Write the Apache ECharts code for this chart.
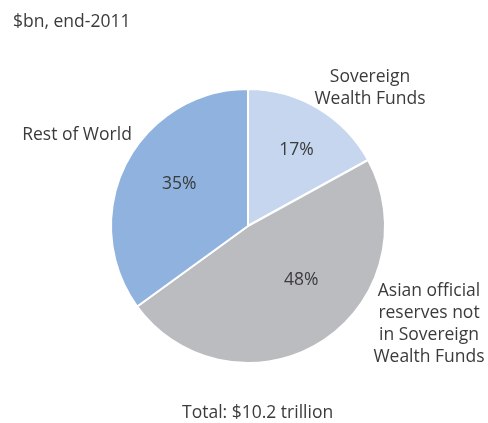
<!DOCTYPE html>
<html>
<head>
<meta charset="utf-8">
<script src="https://cdn.jsdelivr.net/npm/echarts@6/dist/echarts.min.js"></script>
<style>
  html, body { margin: 0; padding: 0; background: #fff; }
  #chart { width: 488px; height: 423px; }
</style>
</head>
<body>
<div id="chart"></div>
<script>
// Holdings split, end-2011 (share of total, %)
const sliceNames = [
  'Sovereign\nWealth Funds',
  'Asian official\nreserves not\nin Sovereign\nWealth Funds',
  'Rest of World'
];
const shares = [17, 48, 35];
const sliceColors = ['#c6d6ee', '#bbbcc0', '#8fb3de'];
const unitNote = '$bn, end-2011';
const totalNote = 'Total: $10.2 trillion';

const FONT = '"Open Sans", "Noto Sans", sans-serif';
const TEXT = '#3b3b3b';
const CENTER = [248, 226];
const RADIUS = 137;

// nudges for the percentage labels, relative to each slice's default inside spot
const innerNudge = [[12, -14], [15, -6], [-5, -10]];
// name labels sit outside the pie
const outerSpot = [[370, 88], [429, 324], [77, 135]];

const data = sliceNames.map((n, i) => ({
  name: n,
  value: shares[i],
  itemStyle: { color: sliceColors[i] }
}));

const chart = echarts.init(document.getElementById('chart'), null, { renderer: 'canvas' });
chart.setOption({
  animation: false,
  title: [
    {
      text: unitNote, left: 8, top: 8,
      textStyle: { fontFamily: FONT, fontSize: 17.5, fontWeight: 'normal', color: TEXT }
    },
    {
      text: totalNote, left: 177, top: 399,
      textStyle: { fontFamily: FONT, fontSize: 17.5, fontWeight: 'normal', color: TEXT }
    }
  ],
  series: [
    {
      type: 'pie',
      center: CENTER,
      radius: RADIUS,
      startAngle: 90,
      clockwise: true,
      silent: true,
      data: data,
      itemStyle: { borderColor: '#ffffff', borderWidth: 2 },
      label: {
        show: true,
        position: 'inside',
        formatter: '{c}%',
        fontFamily: FONT,
        fontSize: 17.5,
        color: TEXT
      },
      labelLine: { show: false },
      labelLayout: p => ({ dx: innerNudge[p.dataIndex][0], dy: innerNudge[p.dataIndex][1] })
    },
    {
      type: 'pie',
      center: CENTER,
      radius: RADIUS,
      startAngle: 90,
      clockwise: true,
      silent: true,
      data: sliceNames.map((n, i) => ({ name: n, value: shares[i] })),
      itemStyle: { color: 'rgba(0,0,0,0)', borderWidth: 0 },
      label: {
        show: true,
        position: 'outside',
        formatter: '{b}',
        fontFamily: FONT,
        fontSize: 17.5,
        lineHeight: 22,
        align: 'center',
        overflow: 'none',
        width: 200,
        color: TEXT
      },
      labelLine: { show: false },
      labelLayout: p => ({
        x: outerSpot[p.dataIndex][0],
        y: outerSpot[p.dataIndex][1],
        align: 'center',
        verticalAlign: 'middle'
      })
    }
  ]
});
</script>
</body>
</html>
